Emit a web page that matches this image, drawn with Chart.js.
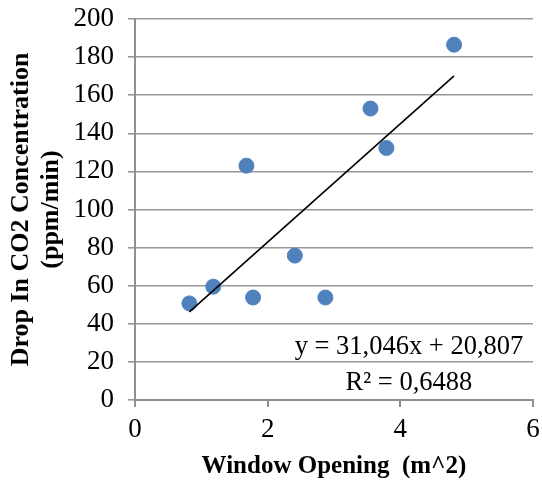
<!DOCTYPE html>
<html><head><meta charset="utf-8">
<script src="https://cdn.jsdelivr.net/npm/chart.js@4/dist/chart.umd.min.js"></script>
<style>html,body{margin:0;padding:0;background:#fff;}canvas{display:block;}</style>
</head><body>
<canvas id="c" width="542" height="486"></canvas>
<script>
const windowOpening = [0.82, 1.18, 1.68, 1.78, 2.41, 2.87, 3.55, 3.79, 4.81];
const co2Drop = [50.7, 59.5, 123, 53.8, 75.8, 53.8, 153, 132.3, 186.5];
const trendX = [0.82, 4.81];
const trendY = [46.3, 170.1];
const equationLines = ['y = 31,046x + 20,807', 'R\u00B2 = 0,6488'];
const xTitle = 'Window Opening  (m^2)';
const yTitle = ['Drop In CO2 Concentration', '(ppm/min)'];

const FONT = 'Liberation Serif';
const eqPlugin = {
  id: 'eq',
  afterDatasetsDraw(chart) {
    const ctx = chart.ctx, xs = chart.scales.x, ys = chart.scales.y;
    ctx.save();
    ctx.font = '26.5px "' + FONT + '"';
    ctx.fillStyle = '#000';
    ctx.textAlign = 'center';
    ctx.textBaseline = 'middle';
    const cx = xs.getPixelForValue(4.13);
    ctx.fillText(equationLines[0], cx, ys.getPixelForValue(27.9));
    ctx.fillText(equationLines[1], cx, ys.getPixelForValue(8.8));
    ctx.restore();
  }
};

new Chart(document.getElementById('c'), {
  type: 'scatter',
  data: {
    datasets: [
      {
        data: windowOpening.map((x, i) => ({x, y: co2Drop[i]})),
        backgroundColor: '#4f81bd', borderColor: '#4f81bd',
        pointRadius: 7.5, pointHoverRadius: 7.5, order: 1
      },
      {
        type: 'line',
        data: trendX.map((x, i) => ({x, y: trendY[i]})),
        borderColor: '#000', borderWidth: 1.6, pointRadius: 0, fill: false, order: 0
      }
    ]
  },
  options: {
    responsive: false, animation: false,
    layout: { padding: { top: 19, right: 9, left: 0, bottom: 0 } },
    plugins: { legend: { display: false }, tooltip: { enabled: false } },
    scales: {
      x: {
        type: 'linear', min: 0, max: 6,
        ticks: { stepSize: 2, color: '#000', font: { family: FONT, size: 27 }, padding: 7, maxRotation: 0 },
        grid: { drawOnChartArea: false, drawTicks: true, tickLength: 7, color: '#8f8f8f', lineWidth: 2 },
        border: { color: '#8f8f8f', width: 2 },
        title: { display: true, text: xTitle, color: '#000', font: { family: FONT, size: 25, weight: 'bold' }, padding: { top: 4 } },
        afterFit(s) { s.height = 86; s.paddingLeft = 0; s.paddingRight = 0; }
      },
      y: {
        type: 'linear', min: 0, max: 200,
        ticks: { stepSize: 20, color: '#000', font: { family: FONT, size: 27 }, padding: 14 },
        grid: { drawTicks: true, tickLength: 7, color: '#979797', lineWidth: 1.6 },
        border: { color: '#8f8f8f', width: 2 },
        title: { display: true, text: yTitle, color: '#000', font: { family: FONT, size: 26, weight: 'bold', lineHeight: 1.15 }, padding: { top: 6, bottom: 0 } },
        afterFit(s) { s.width = 135; s.paddingTop = 0; s.paddingBottom = 0; }
      }
    }
  },
  plugins: [eqPlugin]
});
</script>
</body></html>
